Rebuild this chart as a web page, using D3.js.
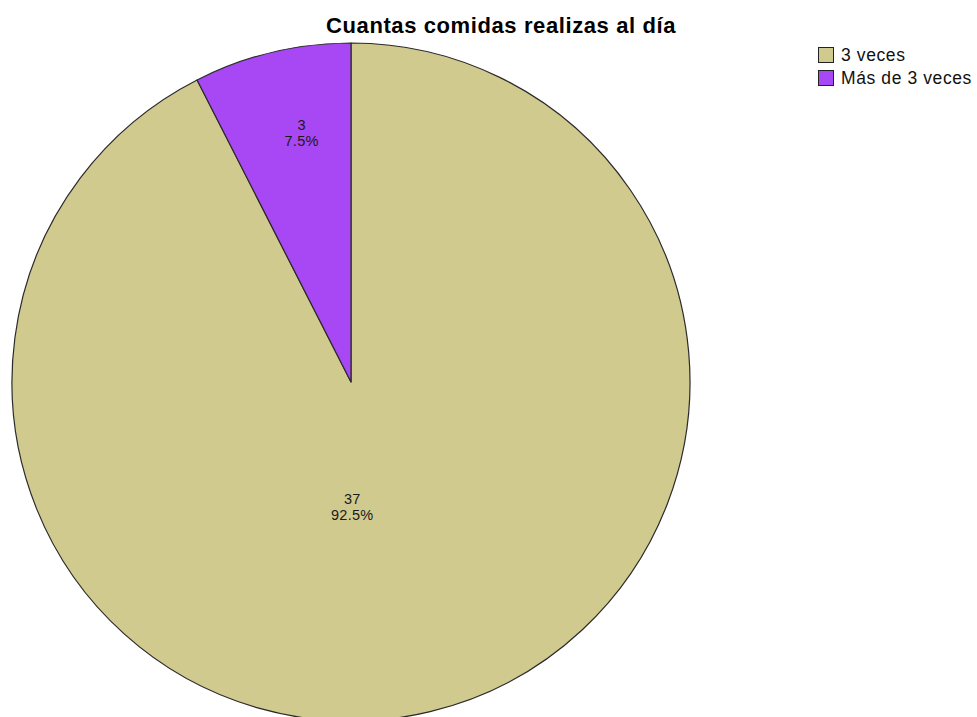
<!DOCTYPE html>
<html><head><meta charset="utf-8">
<script src="https://cdn.jsdelivr.net/npm/d3@7"></script>
<style>html,body{margin:0;padding:0;background:#fff;} svg{display:block;}</style>
</head><body>
<svg id="chart" width="977" height="717"></svg>
<script>
const title = "Cuantas comidas realizas al día";
const categories = ["3 veces", "Más de 3 veces"];
const counts = [37, 3];
const percents = ["92.5%", "7.5%"];
const colors = ["#D1CA8F", "#A748F4"];

const svg = d3.select("#chart");
const W = 977, H = 717;
const cx = 351, cy = 382, R = 339;

svg.append("text")
  .attr("x", 501).attr("y", 33)
  .attr("text-anchor", "middle")
  .attr("font-family", "Liberation Sans, Arial, sans-serif")
  .attr("font-weight", "bold")
  .attr("font-size", 22)
  .attr("letter-spacing", 0.6)
  .attr("fill", "#000")
  .text(title);

const data = categories.map((c, i) => ({cat: c, count: counts[i], pct: percents[i], color: colors[i]}));
const pie = d3.pie().value(d => d.count).sort(null);
const arcs = pie(data);
const arc = d3.arc().innerRadius(0).outerRadius(R);

const g = svg.append("g").attr("transform", `translate(${cx},${cy})`);
g.selectAll("path.slice").data(arcs).enter().append("path")
  .attr("class", "slice")
  .attr("d", arc)
  .attr("fill", d => d.data.color)
  .attr("stroke", "#2a2a2a")
  .attr("stroke-width", 1.2)
  .attr("stroke-linejoin", "round");

// label positions
function labelPos(d) {
  const span = d.endAngle - d.startAngle;
  let a, r;
  if (span > Math.PI) { a = Math.PI - 0.01; r = R * 0.37; }
  else { a = (d.startAngle + d.endAngle) / 2 + 0.04; r = R * 0.75; }
  return [r * Math.sin(a), -r * Math.cos(a)];
}
const lab = g.selectAll("g.lab").data(arcs).enter().append("g")
  .attr("class", "lab")
  .attr("transform", d => { const p = labelPos(d); return `translate(${p[0]},${p[1]})`; });
lab.append("text")
  .attr("text-anchor", "middle").attr("y", -3)
  .attr("font-family", "Liberation Sans, Arial, sans-serif")
  .attr("font-size", 14.5).attr("letter-spacing", 0.3)
  .attr("fill", "#1a1a1a")
  .text(d => d.data.count);
lab.append("text")
  .attr("text-anchor", "middle").attr("y", 13)
  .attr("font-family", "Liberation Sans, Arial, sans-serif")
  .attr("font-size", 14.5).attr("letter-spacing", 0.3)
  .attr("fill", "#1a1a1a")
  .text(d => d.data.pct);

// legend
const leg = svg.append("g").attr("transform", "translate(818,47)");
const items = leg.selectAll("g").data(data).enter().append("g")
  .attr("transform", (d, i) => `translate(0,${i * 23})`);
items.append("rect")
  .attr("x", 0.5).attr("y", 0.5).attr("width", 15).attr("height", 15)
  .attr("fill", d => d.color).attr("stroke", "#222").attr("stroke-width", 1);
items.append("text")
  .attr("x", 23).attr("y", 14)
  .attr("font-family", "Liberation Sans, Arial, sans-serif")
  .attr("font-size", 17.5).attr("letter-spacing", 0.6)
  .attr("fill", "#111")
  .text(d => d.cat);
</script>
</body></html>
